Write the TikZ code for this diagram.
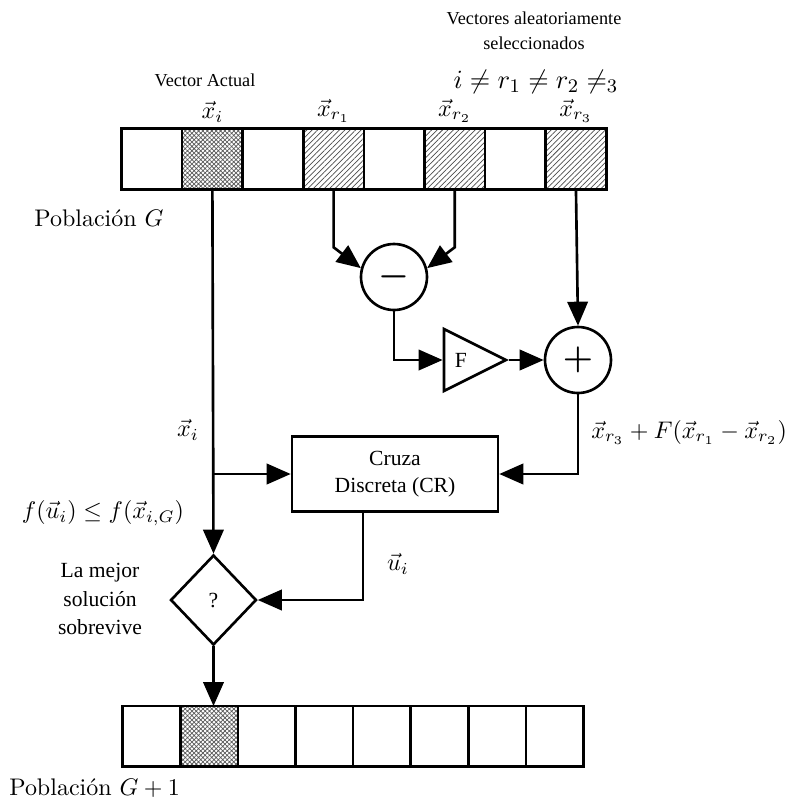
\documentclass[tikz,border=0pt]{standalone}
\usepackage{fontspec}
\newfontfamily\timesfont{Liberation Serif}
\usetikzlibrary{arrows.meta, positioning, shapes.geometric, patterns.meta}

\begin{document}
\begin{tikzpicture}[
    x=0.4167pt, y=-0.4167pt,
    line width=1.1pt,
    cell/.style={
        draw,
        rectangle,
        inner sep=0pt,
        outer sep=0pt,
        minimum width=25.25pt,
        minimum height=25.4pt
    },
    newcell/.style={cell, minimum width=24pt, minimum height=25.3pt},
    current/.style={pattern={Hatch[angle=45, distance=1.3pt, line width=0.3pt]}, pattern color=black!65},
    chosen/.style={pattern={Lines[angle=45, distance=1.6pt, line width=0.3pt]}, pattern color=black!70},
    op/.style={draw, circle, minimum size=27.5pt, inner sep=0pt, font=\Large\boldmath},
    block/.style={
        draw,
        rectangle,
        align=center,
        minimum width=85.8pt,
        minimum height=31.3pt,
        font=\timesfont\fontsize{9}{11.3}\selectfont
    },
    note/.style={align=center, font=\timesfont\fontsize{7.6}{10.4}\selectfont},
    arrow/.style={-{Triangle[length=10pt, width=8.5pt]}}
]
\useasboundingbox (0,0) rectangle (790,806);

% Poblacion G
\node[cell] (g1) at (151.8,158.8) {};
\node[cell, current, right=0pt of g1] (g2) {};
\node[cell, right=0pt of g2] (g3) {};
\node[cell, chosen, right=0pt of g3] (g4) {};
\node[cell, right=0pt of g4] (g5) {};
\node[cell, chosen, right=0pt of g5] (g6) {};
\node[cell, right=0pt of g6] (g7) {};
\node[cell, chosen, right=0pt of g7] (g8) {};

% Poblacion G+1
\node[newcell] (n1) at (151.5,736.4) {};
\node[newcell, current, right=0pt of n1] (n2) {};
\node[newcell, right=0pt of n2] (n3) {};
\node[newcell, right=0pt of n3] (n4) {};
\node[newcell, right=0pt of n4] (n5) {};
\node[newcell, right=0pt of n5] (n6) {};
\node[newcell, right=0pt of n6] (n7) {};
\node[newcell, right=0pt of n7] (n8) {};

% Operators
\node[op] (minus) at (394,277) {$-$};
\node[op] (plus) at (578,360) {$+$};
\node[draw, isosceles triangle, isosceles triangle stretches, minimum width=25.8pt,
      minimum height=25.8pt, inner sep=0pt, font=\timesfont\fontsize{9}{11}\selectfont] (amp) at (461,360) {F};
\node[block] (cruza) at (395,474) {Cruza\\Discreta (CR)};
\node[draw, diamond, minimum width=35.8pt, minimum height=37.5pt, inner sep=0pt,
      font=\timesfont\fontsize{9}{11}\selectfont] (dec) at (213.5,600) {?};

% Labels
\node[note] (actual) at (205,80) {Vector Actual};
\node[note] (random) at (534,31) {Vectores aleatoriamente\\seleccionados};
\node (distinct) at (536,82) {\fontsize{11}{13}\selectfont $i \neq r_1 \neq r_2 \neq_3$};
\node[inner sep=2pt, above=0pt of g2] (xi) {$\vec{x}_i$};
\node[inner sep=2pt, above=0pt of g4] (xr1) {$\vec{x}_{r_1}$};
\node[inner sep=2pt, above=0pt of g6] (xr2) {$\vec{x}_{r_2}$};
\node[inner sep=2pt, above=0pt of g8] (xr3) {$\vec{x}_{r_3}$};
\node (popg) at (99,218) {Población $G$};
\node[anchor=west] (popg1) at (0,788) {Población $G+1$};
\node (xlabel) at (188,430) {$\vec{x}_i$};
\node[anchor=west] (mutant) at (582,432) {$\vec{x}_{r_3} + F(\vec{x}_{r_1} - \vec{x}_{r_2})$};
\node (fitness) at (103,513) {$f(\vec{u}_i) \leq f(\vec{x}_{i,G})$};
\node[align=center, font=\timesfont\fontsize{9}{11.8}\selectfont] (survive) at (100,599) {La mejor\\solución\\sobrevive};
\node (ulabel) at (398,564) {$\vec{u}_i$};

% Arrows
\draw[arrow] (g2.south) -- (dec.north);
\draw[arrow] (g2.south |- cruza.west) -- (cruza.west);
\draw[arrow] (g4.south) -- (g4.south |- minus.120) -- (minus.165);
\draw[arrow] (g6.south) -- (g6.south |- minus.60) -- (minus.15);
\draw[arrow] (minus.south) |- (amp.west);
\draw[arrow] (amp.apex) -- (plus.west);
\draw[arrow] (g8.south) -- (plus.north);
\draw[arrow] (plus.south) |- (cruza.east);
\draw[arrow] ([xshift=-13.3pt]cruza.south) |- (dec.east);
\draw[arrow] (dec.south) -- (dec.south |- n2.north);

\end{tikzpicture}
\end{document}
